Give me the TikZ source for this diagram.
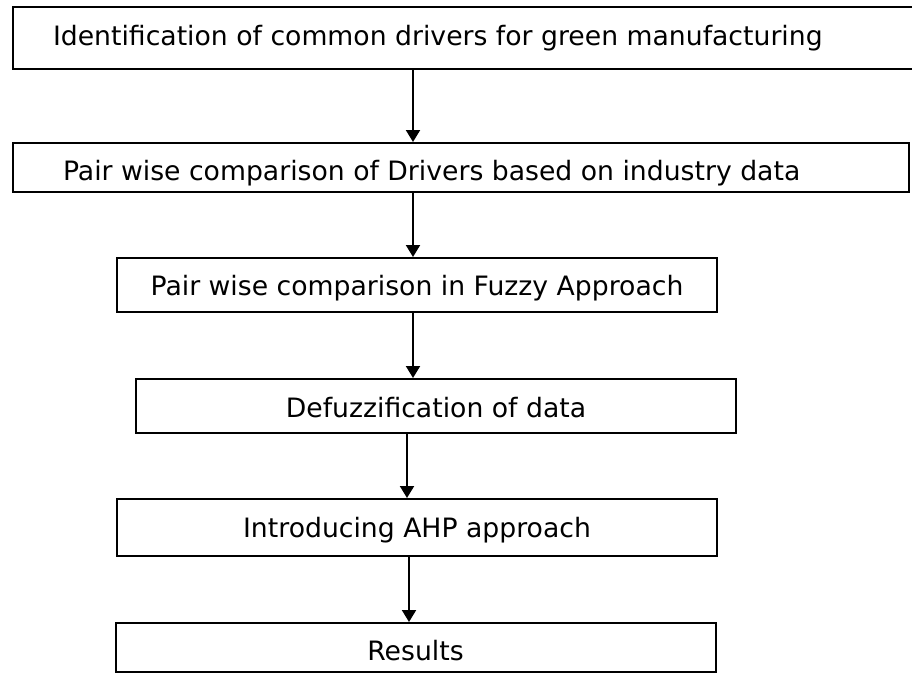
\documentclass[tikz,border=0pt]{standalone}
\usepackage{fontspec}
\setmainfont{DejaVu Sans}
\usetikzlibrary{arrows.meta}

\begin{document}
\begin{tikzpicture}[
  x=0.75pt, y=-0.75pt,
  font=\fontsize{20}{24}\selectfont,
  box/.style={draw, line width=1.5pt, inner sep=0pt, text height=15pt, text depth=0pt, minimum width=450pt, minimum height=40.5pt},
  arr/.style={-{Triangle[length=9pt, width=10.5pt]}, line width=1.5pt},
]
\useasboundingbox (0,0) rectangle (912,675);
\clip (0,0) rectangle (912,675);
% wide boxes, text from the left
\node[box, minimum width=676.5pt, minimum height=46.5pt, text height=10.5pt] (ident) at (464,38)
  {\makebox[616.5pt][l]{Identification of common drivers for green manufacturing}};
\node[box, minimum width=672pt, minimum height=36.75pt, text height=18.75pt] (pairdata) at (461,167.5)
  {\makebox[597pt][l]{Pair wise comparison of Drivers based on industry data}};
% narrow boxes
\node[box] (fuzzy) at (417,285) {Pair wise comparison in Fuzzy Approach};
\node[box, text height=16.5pt] (defuzz) at (436,406) {Defuzzification of data};
\node[box, minimum height=42.75pt, text height=14.25pt] (ahp) at (417,527.5) {Introducing AHP approach};
\node[box, minimum height=36.75pt, text height=18.75pt] (results) at (415.5,647.5) {Results};
% connectors
\draw[arr] (ident.south -| 413,0) -- (pairdata.north -| 413,0);
\draw[arr] (pairdata.south -| 413,0) -- (fuzzy.north -| 413,0);
\draw[arr] (fuzzy.south -| 413,0) -- (defuzz.north -| 413,0);
\draw[arr] (defuzz.south -| 407,0) -- (ahp.north -| 407,0);
\draw[arr] (ahp.south -| 409,0) -- (results.north -| 409,0);
\end{tikzpicture}
\end{document}
